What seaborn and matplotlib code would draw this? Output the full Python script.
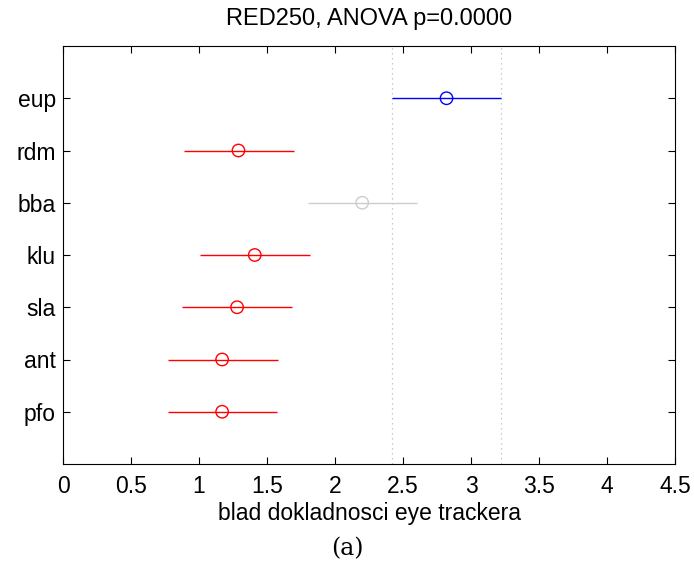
import matplotlib
matplotlib.use("Agg")
import matplotlib.pyplot as plt
import seaborn as sns
import pandas as pd
import numpy as np
from matplotlib.collections import PathCollection

groups = ["eup", "rdm", "bba", "klu", "sla", "ant", "pfo"]
means = [2.82, 1.29, 2.20, 1.41, 1.28, 1.17, 1.17]
lower = [2.42, 0.89, 1.80, 1.01, 0.875, 0.77, 0.77]
upper = [3.22, 1.695, 2.60, 1.815, 1.685, 1.58, 1.575]
status = ["selected", "different", "neutral", "different", "different", "different", "different"]
ref_lines = [2.42, 3.22]
xticks = [0, 0.5, 1, 1.5, 2, 2.5, 3, 3.5, 4, 4.5]
xtick_labels = ["0", "0.5", "1", "1.5", "2", "2.5", "3", "3.5", "4", "4.5"]

colors = {"selected": "#0000ff", "different": "#ff0000", "neutral": "#cccccc"}

sns.set_style("white")
plt.rcParams["font.family"] = ["Liberation Sans", "DejaVu Sans"]
plt.rcParams["text.color"] = "black"
plt.rcParams["axes.labelcolor"] = "black"
plt.rcParams["xtick.color"] = "black"
plt.rcParams["ytick.color"] = "black"

df = pd.DataFrame({
    "group": groups,
    "mean": means,
    "lower": lower,
    "upper": upper,
    "status": status,
})
df["ypos"] = len(groups) - np.arange(len(groups))

fig = plt.figure(figsize=(6.94, 5.68), dpi=100)
ax = fig.add_axes([63 / 694, 1 - 464 / 568, 612 / 694, 418 / 568])

for x in ref_lines:
    ax.axvline(x, color="#bbbbbb", linestyle=(0, (1, 3)), linewidth=0.9, zorder=1)

for _, r in df.iterrows():
    ax.hlines(r["ypos"], r["lower"], r["upper"], colors=colors[r["status"]], linewidth=1.0, zorder=2)

sns.scatterplot(data=df, x="mean", y="ypos", hue="status", palette=colors,
                marker="o", s=80, linewidth=1.0, legend=False,
                ax=ax, zorder=3)
for coll in ax.collections:
    if isinstance(coll, PathCollection):
        coll.set_facecolor("none")
        coll.set_edgecolor([colors[s] for s in df["status"]])

ax.set_xlim(0, 4.5)
ax.set_ylim(0, 8)
ax.set_xticks(xticks)
ax.set_xticklabels(xtick_labels)
ax.set_yticks(df["ypos"])
ax.set_yticklabels(df["group"])
ax.tick_params(direction="in", top=True, right=True, left=True, bottom=True,
               length=5, width=0.8, labelsize=16.5, color="black",
               labelcolor="black")
ax.tick_params(axis="x", pad=8)
ax.tick_params(axis="y", pad=5)
for sp in ax.spines.values():
    sp.set_color("black")
    sp.set_linewidth(0.8)
ax.set_xlabel("blad dokladnosci eye trackera", fontsize=16.5, labelpad=3, color="black")
ax.set_ylabel("")
ax.set_title("RED250, ANOVA p=0.0000", fontsize=17, pad=15, color="black")

fig.text(0.5, 1 - 549 / 568, "(a)", ha="center", va="center", fontsize=17,
         family=["DejaVu Serif"], color="black")

fig.savefig("out.png", dpi=100)
